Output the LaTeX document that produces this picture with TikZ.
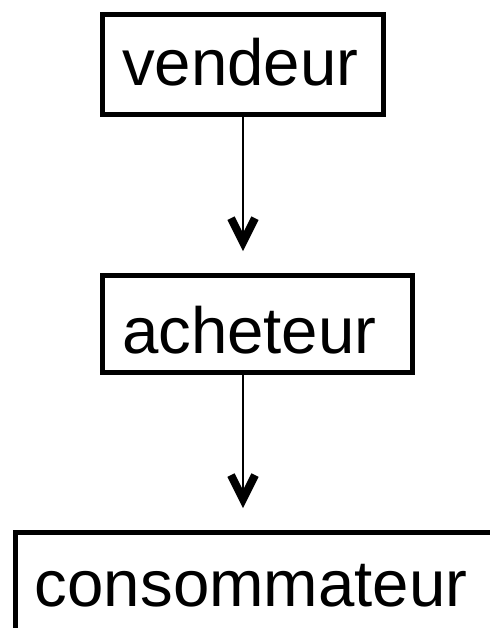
\documentclass[tikz,border=0pt]{standalone}
\usepackage{fontspec}
\setmainfont{Liberation Sans}
\usepackage{tikz}
\usetikzlibrary{arrows.meta}
\tikzstyle{role}=[rectangle,draw=black,line width=0.14cm,align=left,
inner xsep=0.4875cm,font=\fontsize{46.5}{56}\selectfont,text depth=0cm]
\tikzstyle{arrow}=[line width=0.055cm,-{Straight Barb[length=0.6cm,width=0.6cm,line width=0.2cm]},shorten >=0.54cm]

\begin{document}
\begin{tikzpicture}[node distance=7cm]
        \clip (0,0) rectangle (12.25,-15.7);
        \node (vendeur) [role,text width=6.05cm,minimum height=2.5cm,text height=1.025cm] at (6.075,-1.6125) {vendeur};
        \node (acheteur) [role,below of=vendeur,xshift=0.3625cm,yshift=0.5125cm,
            text width=6.775cm,minimum height=2.425cm,text height=1.45cm] {acheteur};
        \node (consommateur) [role,below of=acheteur,xshift=0.256cm,yshift=-0.056cm,
            text width=11.64cm,minimum height=3.69cm,text height=0.6cm,text depth=0.6cm] {consommateur};

        \draw [arrow] (vendeur.south) -- (vendeur.south |- acheteur.north);
        \draw [arrow] (vendeur |- acheteur.south) -- (vendeur |- consommateur.north);

    \end{tikzpicture}
\end{document}
